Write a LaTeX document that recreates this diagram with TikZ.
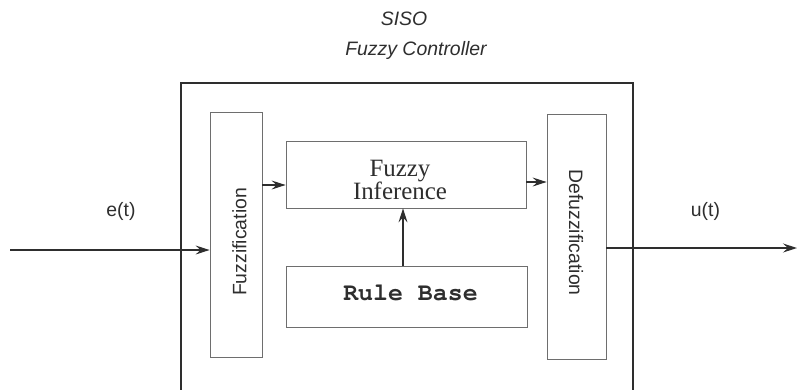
\documentclass[tikz,border=0pt]{standalone}
\usepackage{fontspec}
\setmainfont{Liberation Serif}
\setsansfont{Liberation Sans}
\setmonofont{Liberation Mono}
\newfontfamily\cursorfont{TeX Gyre Cursor}
\usetikzlibrary{arrows.meta}
\definecolor{ink}{HTML}{2E2E2E}
\definecolor{boxline}{HTML}{6E6E6E}
\tikzset{
  blockbox/.style={draw=boxline, line width=0.8bp, inner sep=0pt, text=ink},
  sig/.style={draw=ink, line width=1.3bp, -{Stealth[length=14bp,width=9bp,inset=5bp]}},
  sanslabel/.style={font=\sffamily\fontsize{19.5}{22}\selectfont, text=ink, inner sep=0pt},
}
\begin{document}
\begin{tikzpicture}[x=1bp,y=-1bp]
\useasboundingbox (0,0) rectangle (797,389);
\clip (0,0) rectangle (797,389);

% title
\node[sanslabel, font=\sffamily\itshape\fontsize{19.5}{22}\selectfont] (title1) at (404,19) {SISO};
\node[sanslabel, font=\sffamily\itshape\fontsize{19.5}{22}\selectfont] (title2) at (416,50) {Fuzzy Controller};

% controller frame
\node[draw=ink, line width=1.5bp, minimum width=452bp, minimum height=330bp, inner sep=0pt, anchor=north west] (frame) at (180,82) {};

% blocks
\node[blockbox, minimum width=52bp, minimum height=245bp] (fuzz) at (236,234.5) {};
\node[sanslabel, rotate=90] (fuzzlbl) at (239.5,242) {Fuzzification};

\node[blockbox, minimum width=59bp, minimum height=245bp] (defuzz) at (576.5,236.5) {};
\node[sanslabel, rotate=-90] (defuzzlbl) at (576,232.5) {Defuzzification};

\node[blockbox, minimum width=240bp, minimum height=67bp] (infer) at (406,174.5) {};
\node[align=center, text=ink, inner sep=0pt, font=\fontsize{25}{21}\selectfont] (inferlbl) at (400,180) {Fuzzy\\Inference};

\node[blockbox, minimum width=241bp, minimum height=61bp] (rules) at (406.5,296.5) {};
\node[text=ink, inner sep=0pt, font=\cursorfont\bfseries\fontsize{25}{26}\selectfont] (ruleslbl) at (410.5,293) {Rule Base};

% signal labels
\node[sanslabel] (elbl) at (121,211) {e(t)};
\node[sanslabel] (ulbl) at (705.5,211) {u(t)};

% connection points
\coordinate (ein) at (10,250);
\coordinate (uout) at (797,248);

% signals
\draw[sig] (ein) -- (ein -| fuzz.west);
\draw[sig] (fuzz.east |- 0,185) -- (infer.west |- 0,185);
\draw[sig] (infer.east |- 0,182) -- (defuzz.west |- 0,182);
\draw[sig] (rules.north -| 403,0) -- (infer.south -| 403,0);
\draw[sig] (defuzz.east |- uout) -- (uout);
\end{tikzpicture}
\end{document}
